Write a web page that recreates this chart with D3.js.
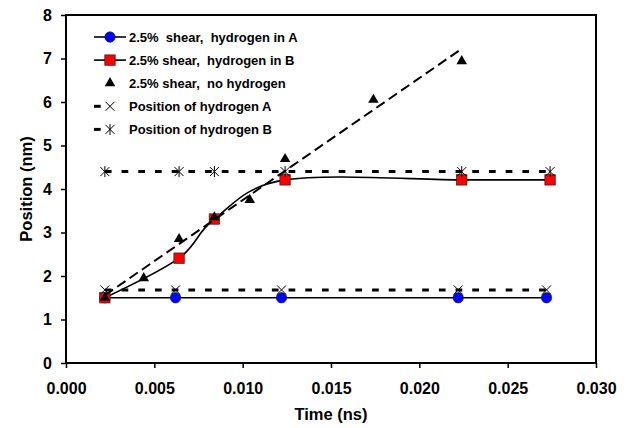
<!DOCTYPE html>
<html>
<head>
<meta charset="utf-8">
<script src="https://cdn.jsdelivr.net/npm/d3@7"></script>
<style>
  body { margin: 0; background: #fff; }
  svg text { font-family: "Liberation Sans", Arial, sans-serif; font-weight: bold; fill: #000; }
</style>
</head>
<body>
<div id="chart"></div>
<script>
// series (time in ns, position in nm)
const timeA = [0.0022, 0.0062, 0.0122, 0.0222, 0.0272];
const posA = [1.5, 1.5, 1.5, 1.5, 1.5];
const timeB = [0.0022, 0.0064, 0.0084, 0.0124, 0.0224, 0.0274];
const posB = [1.5, 2.41, 3.31, 4.21, 4.21, 4.21];
const timeNoH = [0.0022, 0.0044, 0.0064, 0.0084, 0.0104, 0.0124, 0.0174, 0.0224];
const posNoH = [1.5, 1.95, 2.85, 3.35, 3.75, 4.69, 6.05, 6.94];
const hydA = [1.68, 1.68, 1.68, 1.68, 1.68];   // at timeA
const hydB = [4.4, 4.4, 4.4, 4.4, 4.4, 4.4];   // at timeB
const xTicks = [0, 0.005, 0.010, 0.015, 0.020, 0.025, 0.030];
const yTicks = [0, 1, 2, 3, 4, 5, 6, 7, 8];
const legendLabels = [
    "2.5%  shear,  hydrogen in A",
    "2.5% shear,  hydrogen in B",
    "2.5% shear,  no hydrogen",
    "Position of hydrogen A",
    "Position of hydrogen B"
];

let margin = {top: 15, right: 32, bottom: 65, left: 66},
    width = 628 - margin.left - margin.right,
    height = 428 - margin.top - margin.bottom;

let svg = d3.select("#chart").append("svg")
    .attr("width", 628)
    .attr("height", 428)
  .append("g")
    .attr("transform", "translate(" + margin.left + "," + margin.top + ")");

let x = d3.scaleLinear().domain([0, 0.03]).range([0, width]);
let y = d3.scaleLinear().domain([0, 8]).range([height, 0]);

function zip(xs, ys) { return xs.map(function(t, i) { return {t: t, v: ys[i]}; }); }

// axes
let xAxis = d3.axisBottom(x).tickValues(xTicks).tickFormat(d3.format(".3f"))
    .tickSize(5).tickPadding(15);
let yAxis = d3.axisLeft(y).tickValues(yTicks).tickFormat(d3.format("d"))
    .tickSize(5).tickPadding(9);

let gx = svg.append("g")
    .attr("transform", "translate(0," + height + ")")
    .call(xAxis);
let gy = svg.append("g").call(yAxis);
[gx, gy].forEach(function(g) {
    g.select(".domain").remove();
    g.selectAll(".tick line").attr("stroke", "#000").attr("stroke-width", 1.5);
    g.selectAll(".tick text").style("font-size", "16px").attr("fill", "#000");
});

// frame
svg.append("rect")
    .attr("width", width)
    .attr("height", height)
    .attr("fill", "none")
    .attr("stroke", "#000")
    .attr("stroke-width", 2);

// axis titles
svg.append("text")
    .attr("x", width / 2)
    .attr("y", height + 57)
    .style("text-anchor", "middle")
    .style("font-size", "16.5px")
    .text("Time (ns)");
svg.append("text")
    .attr("transform", "rotate(-90)")
    .attr("x", -height / 2)
    .attr("y", -34)
    .style("text-anchor", "middle")
    .style("font-size", "16.5px")
    .text("Position (nm)");

let smooth = d3.line()
    .x(function(d) { return x(d.t); })
    .y(function(d) { return y(d.v); })
    .curve(d3.curveCardinal.tension(0));
let straight = d3.line()
    .x(function(d) { return x(d.t); })
    .y(function(d) { return y(d.v); });

// marker drawers
function circleMark(g, cx, cy) {
    g.append("circle").attr("cx", cx).attr("cy", cy).attr("r", 5.2)
        .attr("fill", "#0000ff").attr("stroke", "#222").attr("stroke-width", 0.7);
}
function squareMark(g, cx, cy) {
    g.append("rect").attr("x", cx - 5.2).attr("y", cy - 5.2).attr("width", 10.4).attr("height", 10.4)
        .attr("fill", "#ff0000").attr("stroke", "#222").attr("stroke-width", 0.7);
}
function triMark(g, cx, cy) {
    g.append("path").attr("transform", "translate(" + cx + "," + cy + ")")
        .attr("d", d3.symbol().type(d3.symbolTriangle).size(48)())
        .attr("fill", "#000");
}
function crossMark(g, cx, cy) {
    g.append("path")
        .attr("d", "M" + (cx - 4.5) + "," + (cy - 4.5) + "L" + (cx + 4.5) + "," + (cy + 4.5) +
                   "M" + (cx - 4.5) + "," + (cy + 4.5) + "L" + (cx + 4.5) + "," + (cy - 4.5))
        .attr("stroke", "#000").attr("stroke-width", 1);
}
function starMark(g, cx, cy) {
    crossMark(g, cx, cy);
    g.append("path")
        .attr("d", "M" + cx + "," + (cy - 5.5) + "L" + cx + "," + (cy + 5.5))
        .attr("stroke", "#000").attr("stroke-width", 1);
}

const dataA = zip(timeA, posA),
      dataB = zip(timeB, posB),
      dataN = zip(timeNoH, posNoH),
      dataHA = zip(timeA, hydA),
      dataHB = zip(timeB, hydB);

// series 1: hydrogen in A
svg.append("path").datum(dataA).attr("d", smooth)
    .attr("fill", "none").attr("stroke", "#000").attr("stroke-width", 1.6);
dataA.forEach(function(d) { circleMark(svg, x(d.t), y(d.v)); });

// series 2: hydrogen in B
svg.append("path").datum(dataB).attr("d", smooth)
    .attr("fill", "none").attr("stroke", "#000").attr("stroke-width", 1.6);
dataB.forEach(function(d) { squareMark(svg, x(d.t), y(d.v)); });

// series 3: no hydrogen, with linear trendline (least squares)
let mx = d3.mean(timeNoH), my = d3.mean(posNoH);
let slope = d3.sum(timeNoH, function(t, i) { return (t - mx) * (posNoH[i] - my); }) /
            d3.sum(timeNoH, function(t) { return (t - mx) * (t - mx); });
let icpt = my - slope * mx;
let tExt = d3.extent(timeNoH);
let trend = tExt.map(function(t) { return {t: t, v: icpt + slope * t}; });
svg.append("path").datum(trend).attr("d", straight)
    .attr("fill", "none").attr("stroke", "#000").attr("stroke-width", 2)
    .attr("stroke-dasharray", "10,5");
dataN.forEach(function(d) { triMark(svg, x(d.t), y(d.v)); });

// series 4, 5: hydrogen positions
svg.append("path").datum(dataHA).attr("d", straight)
    .attr("fill", "none").attr("stroke", "#000").attr("stroke-width", 3)
    .attr("stroke-dasharray", "6.7,10");
dataHA.forEach(function(d) { crossMark(svg, x(d.t), y(d.v)); });
svg.append("path").datum(dataHB).attr("d", straight)
    .attr("fill", "none").attr("stroke", "#000").attr("stroke-width", 3)
    .attr("stroke-dasharray", "6.7,10");
dataHB.forEach(function(d) { starMark(svg, x(d.t), y(d.v)); });

// legend
let legend = svg.append("g").attr("transform", "translate(28,22)");
let markers = [circleMark, squareMark, triMark, crossMark, starMark];
legendLabels.forEach(function(lbl, i) {
    let ly = i * 23.1;
    let row = legend.append("g");
    if (i < 2) {
        row.append("line").attr("x1", 0).attr("x2", 32).attr("y1", ly).attr("y2", ly)
            .attr("stroke", "#000").attr("stroke-width", 1.6);
    } else if (i > 2) {
        row.append("line").attr("x1", 0).attr("x2", 6.7).attr("y1", ly).attr("y2", ly)
            .attr("stroke", "#000").attr("stroke-width", 3);
    }
    markers[i](row, 16, ly);
    row.append("text")
        .attr("x", 35)
        .attr("y", ly)
        .attr("dy", "0.36em")
        .style("font-size", "13px")
        .style("white-space", "pre")
        .text(lbl);
});
</script>
</body>
</html>
